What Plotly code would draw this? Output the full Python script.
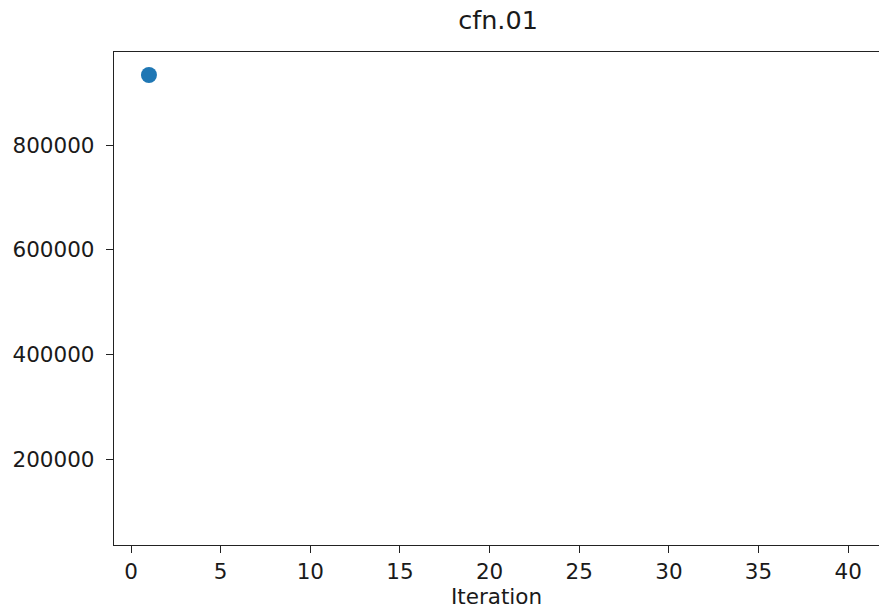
import plotly.graph_objects as go

iterations = [1]
values = [933700]
x_ticks = [0, 5, 10, 15, 20, 25, 30, 35, 40]
y_ticks = [200000, 400000, 600000, 800000]

W, H = 879, 611
L, R, T, B = 114, 0, 52, 66

fig = go.Figure()
fig.add_trace(go.Scatter(
    x=iterations, y=values, mode="markers",
    marker=dict(color="#1f77b4", size=16, line=dict(width=0)),
    showlegend=False,
))

font = dict(family="DejaVu Sans", size=21.5, color="#1a1a1a")

fig.update_layout(
    width=W, height=H,
    margin=dict(l=L, r=R, t=T, b=B, pad=0),
    paper_bgcolor="white", plot_bgcolor="white",
    font=font,
    title=dict(text="cfn.01", x=498 / W, xanchor="center", xref="container",
               y=1 - 20 / H, yanchor="middle", yref="container",
               font=dict(family="DejaVu Sans", size=25.5, color="#1a1a1a")),
)
fig.update_xaxes(
    range=[-0.95, 41.72], tickvals=x_ticks, ticktext=[str(v) for v in x_ticks],
    showgrid=False, zeroline=False,
    showline=True, linecolor="#222", linewidth=1.3, mirror=True,
    ticks="outside", ticklen=7, tickwidth=1.3, tickcolor="#222",
    title=dict(text="Iteration", standoff=4, font=font),
)
fig.update_yaxes(
    range=[35700, 977700], tickvals=y_ticks, ticktext=[str(v) for v in y_ticks],
    showgrid=False, zeroline=False,
    showline=True, linecolor="#222", linewidth=1.3,
    ticks="outside", ticklen=7, tickwidth=1.3, tickcolor="#222",
    ticklabelstandoff=7,
)

fig.write_html("out.html", config={"displayModeBar": False},
               post_script="document.body.style.margin='0';document.body.style.overflow='hidden';")
